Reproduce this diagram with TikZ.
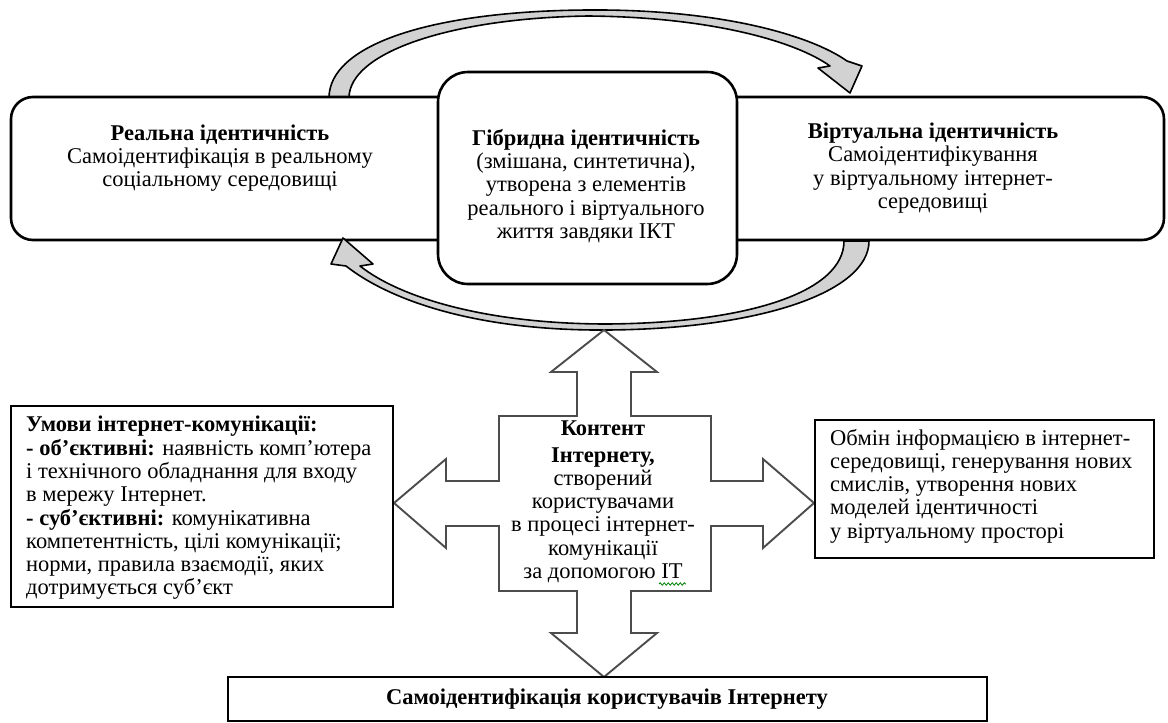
\documentclass[tikz,border=0pt]{standalone}
\usepackage{fontspec}
\setmainfont{Liberation Serif}
\usetikzlibrary{decorations.pathmorphing}
\begin{document}
\begin{tikzpicture}[x=1pt,y=-1pt,
  txt/.style={font=\fontsize{22.5}{23.3}\selectfont, align=center, inner sep=0pt},
  ltxt/.style={font=\fontsize{22.5}{23.3}\selectfont, align=left, inner sep=0pt, anchor=west},
  rbox/.style={draw=black, line width=2.6pt, fill=white, rounded corners=22pt},
  hbox/.style={draw=black, line width=2.6pt, fill=white, rounded corners=30pt},
  sbox/.style={draw=black, line width=2.4pt, fill=white},
  band/.style={draw=black, line width=1.6pt, fill=gray!35, line join=round},
  cross/.style={draw=black!70, line width=1.9pt, fill=white, line join=miter}]
\useasboundingbox (0,0) rectangle (1168,723);

% top curved arrow (real -> virtual)
\draw[band] (329,98) .. controls (329,45) and (430,11) .. (588,10)
  .. controls (720,9) and (810,35) .. (847,61)
  -- (862,66) -- (850,93) -- (818,68) -- (830,66)
  .. controls (795,41) and (710,17) .. (588,16)
  .. controls (452,18) and (349,52) .. (349,98) -- cycle;

% identity boxes
\draw[rbox] (11,97) rectangle (470,240);
\draw[rbox] (705,97) rectangle (1164,240);
\draw[hbox] (438,72) rectangle (737,284);
\coordinate (real) at (236,168);
\coordinate (virt) at (951,168);
\coordinate (hyb) at (588,178);

% bottom curved arrow (virtual -> real)
\draw[band] (869,241) .. controls (869,292) and (760,329) .. (607,330)
  .. controls (480,331) and (392,302) .. (346,266)
  -- (331,264) -- (343,238) -- (373,264) -- (360,266)
  .. controls (402,299) and (490,324) .. (607,324)
  .. controls (748,323) and (844,292) .. (844,241) -- cycle;

\node[txt] (realT) at (220,158) {\textbf{Реальна ідентичність}\\Самоідентифікація в реальному\\соціальному середовищі};
\node[txt] (hybT) at (586,186) {\textbf{Гібридна ідентичність}\\(змішана, синтетична),\\утворена з елементів\\реального і віртуального\\життя завдяки ІКТ};
\node[txt] (virtT) at (933,168) {\textbf{Віртуальна ідентичність}\\Самоідентифікування\\у віртуальному інтернет-\\середовищі};

% cross arrow
\draw[cross] (604,330) -- (657,372) -- (631,372) -- (631,416) -- (711,416) -- (711,481)
  -- (763,481) -- (763,459) -- (814,503) -- (763,548) -- (763,526) -- (711,526)
  -- (711,591) -- (631,591) -- (631,633) -- (657,633) -- (604,677) -- (551,633)
  -- (577,633) -- (577,591) -- (499,591) -- (499,526) -- (446,526) -- (446,548)
  -- (394,503) -- (446,459) -- (446,481) -- (499,481) -- (499,416) -- (577,416)
  -- (577,372) -- (551,372) -- cycle;
\node[txt] (cont) at (603,502) {\textbf{Контент}\\[3pt]\textbf{Інтернету,}\\створений\\користувачами\\в процесі інтернет-\\комунікації\\за допомогою ІТ};
\draw[green!50!black, line width=0.8pt, decorate, decoration={snake, amplitude=1.2pt, segment length=4pt}] (659,584) -- (686,584);

% side boxes
\draw[sbox] (11,406) rectangle (393,607);
\node[ltxt] (cond) at (26,508) {\textbf{Умови інтернет-комунікації:}\\
\textbf{- об’єктивні:} наявність комп’ютера\\
і технічного обладнання для входу\\
в мережу Інтернет.\\
\textbf{- суб’єктивні:} комунікативна\\
компетентність, цілі комунікації;\\
норми, правила взаємодії, яких\\
дотримується суб’єкт};

\draw[sbox] (815,420) rectangle (1154,558);
\node[ltxt] (exch) at (830,486) {Обмін інформацією в інтернет-\\середовищі, генерування нових\\смислів, утворення нових\\моделей ідентичності\\у віртуальному просторі};

\draw[sbox] (228,677) rectangle (987,721);
\node[txt] (self) at (607,699) {\textbf{Самоідентифікація користувачів Інтернету}};
\end{tikzpicture}
\end{document}
